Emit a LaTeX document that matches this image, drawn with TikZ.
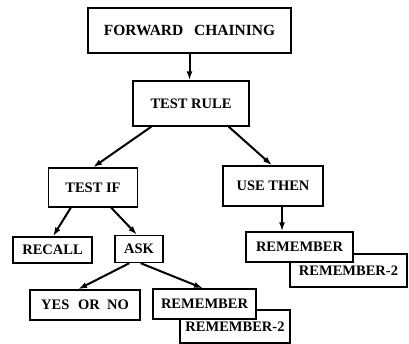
\documentclass[tikz,border=0pt]{standalone}
\usepackage{fontspec}
\setmainfont{Liberation Serif}
\usetikzlibrary{arrows.meta}
\begin{document}
\begin{tikzpicture}[x=1pt,y=-1pt,
  box/.style={draw,line width=1.4pt,fill=white,inner sep=0pt,anchor=center,
    font=\bfseries\fontsize{14.5}{17}\selectfont},
  link/.style={line width=2pt,-{Latex[length=9pt,width=6pt]}}]
\useasboundingbox (0,0) rectangle (409,344);
% back boxes, partly covered by the REMEMBER boxes
\node[box,minimum width=110pt,minimum height=33pt] (rtwoa) at (235,326.5) {\raisebox{-6pt}{REMEMBER-2}};
\node[box,minimum width=117pt,minimum height=33pt] (rtwob) at (348.5,270.5) {\raisebox{-6pt}{REMEMBER-2}};
% main boxes
\node[box,minimum width=203pt,minimum height=45pt,font=\bfseries\fontsize{15.5}{18}\selectfont] (fc) at (189.5,30.5) {FORWARD\hspace{0.7em}CHAINING};
\node[box,minimum width=116pt,minimum height=45pt] (tr) at (191,103.5) {TEST RULE};
\node[box,minimum width=89pt,minimum height=39pt] (tif) at (93,187.5) {TEST IF};
\node[box,minimum width=100pt,minimum height=40pt] (ut) at (273,186) {USE THEN};
\node[box,minimum width=79pt,minimum height=26pt] (rc) at (52.5,250) {RECALL};
\node[box,minimum width=48pt,minimum height=27pt] (ask) at (139,249) {ASK};
\node[box,minimum width=110pt,minimum height=30pt] (yn) at (85,305) {YES\hspace{0.6em}OR\hspace{0.5em}NO};
\node[box,minimum width=103pt,minimum height=30pt] (rma) at (204.5,304) {REMEMBER};
\node[box,minimum width=107pt,minimum height=30pt] (rmb) at (299.5,247) {REMEMBER};
% connector end points on the box edges
\coordinate (tra) at ([xshift=19pt]tr.south west);
\coordinate (trb) at ([xshift=-21pt]tr.south east);
\coordinate (tifa) at ([xshift=23pt]tif.south west);
\coordinate (tifb) at ([xshift=-27pt]tif.south east);
\coordinate (aska) at ([xshift=15pt]ask.south west);
\coordinate (askb) at ([xshift=-23pt]ask.south east);
\coordinate (uta) at ([xshift=9pt]ut.south);
% connectors
\draw[link] (fc.south) -- (fc.south |- tr.north);
\draw[link] (tra) -- (tif.north);
\draw[link] (trb) -- ([xshift=-1pt]ut.north);
\draw[link] (tifa) -- ([xshift=0.5pt]rc.north);
\draw[link] (tifb) -- ([xshift=-2pt]ask.north);
\draw[link] (aska) -- ([xshift=-7pt]yn.north);
\draw[link] (askb) -- ([xshift=-1.5pt]rma.north);
\draw[link] (uta) -- (uta |- rmb.north);
\end{tikzpicture}
\end{document}
